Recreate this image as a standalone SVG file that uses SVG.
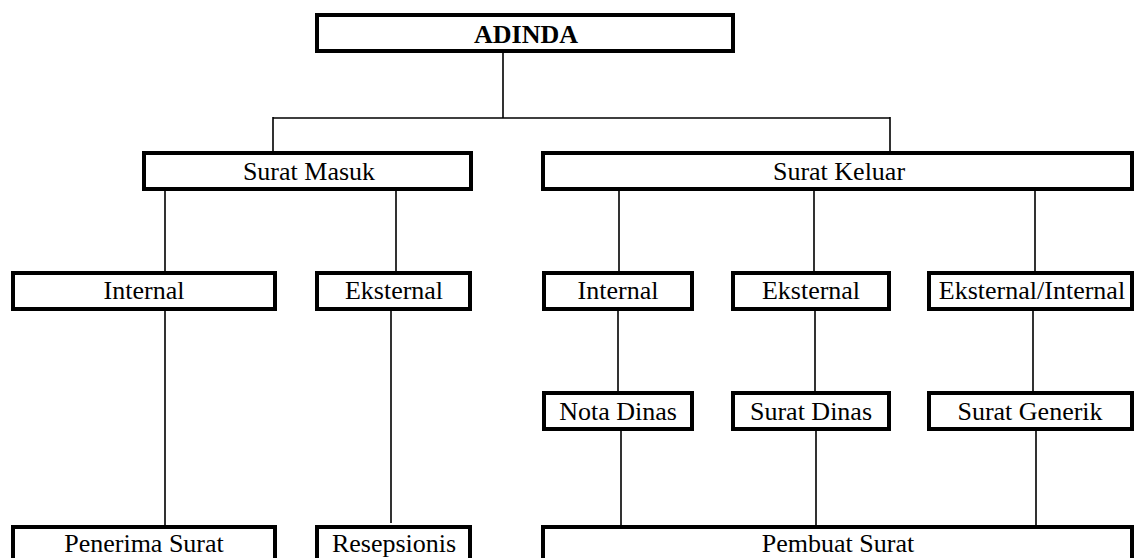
<svg xmlns="http://www.w3.org/2000/svg" width="1135" height="558" viewBox="0 0 1135 558">
<style>
.box{fill:#fff;stroke:#000;stroke-width:4}
.t{font-family:"Liberation Serif","Times New Roman",serif;font-size:26px;fill:#000;text-anchor:middle}
.b{font-weight:bold}
.c{stroke:#000;stroke-width:1.6;fill:none}
</style>
<rect width="1135" height="558" fill="#fff"/>
<g id="connectors">
<path class="c" d="M503 53V118M273 118H890M273 117V153M890 117V153"/>
<path class="c" d="M165 182V273M396 182V273M619 182V273M814 182V273M1035 182V273"/>
<path class="c" d="M165 302V525M391 302V523"/>
<path class="c" d="M618 302V393M815 302V393M1033 302V393"/>
<path class="c" d="M621 422V527M816 422V527M1036 422V527"/>
</g>
<g id="adinda"><rect class="box" x="317" y="15" width="416" height="36"/><text class="t b" x="526" y="43">ADINDA</text></g>
<g id="surat-masuk"><rect class="box" x="144" y="153" width="327" height="36"/><text class="t" x="309" y="180">Surat Masuk</text></g>
<g id="surat-keluar"><rect class="box" x="543" y="153" width="589" height="36"/><text class="t" x="839" y="180">Surat Keluar</text></g>
<g id="masuk-internal"><rect class="box" x="13" y="273" width="262" height="36"/><text class="t" x="144" y="299">Internal</text></g>
<g id="masuk-eksternal"><rect class="box" x="317" y="273" width="153" height="36"/><text class="t" x="394" y="299">Eksternal</text></g>
<g id="keluar-internal"><rect class="box" x="544" y="273" width="148" height="36"/><text class="t" x="618" y="299">Internal</text></g>
<g id="keluar-eksternal"><rect class="box" x="733" y="273" width="156" height="36"/><text class="t" x="811" y="299">Eksternal</text></g>
<g id="keluar-eksternal-internal"><rect class="box" x="929" y="273" width="203" height="36"/><text class="t" x="1032" y="299">Eksternal/Internal</text></g>
<g id="nota-dinas"><rect class="box" x="544" y="393" width="148" height="36"/><text class="t" x="618" y="420">Nota Dinas</text></g>
<g id="surat-dinas"><rect class="box" x="733" y="393" width="156" height="36"/><text class="t" x="811" y="420">Surat Dinas</text></g>
<g id="surat-generik"><rect class="box" x="929" y="393" width="203" height="36"/><text class="t" x="1030" y="420">Surat Generik</text></g>
<g id="penerima-surat"><rect class="box" x="13" y="527" width="262" height="50"/><text class="t" x="144" y="552">Penerima Surat</text></g>
<g id="resepsionis"><rect class="box" x="317" y="527" width="153" height="50"/><text class="t" x="394" y="552">Resepsionis</text></g>
<g id="pembuat-surat"><rect class="box" x="543" y="527" width="589" height="50"/><text class="t" x="838" y="552">Pembuat Surat</text></g>
</svg>
